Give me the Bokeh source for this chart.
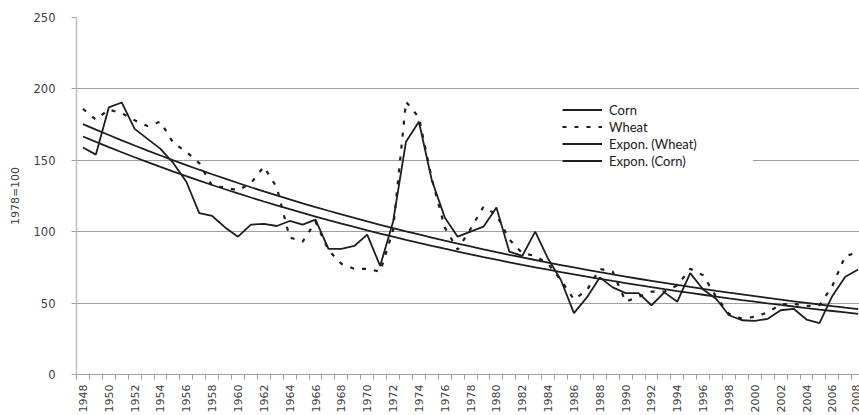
import math
import numpy as np
from bokeh.plotting import figure
from bokeh.models import FixedTicker, Legend, LegendItem
from bokeh.embed import file_html
from bokeh.resources import INLINE

years = list(range(1948, 2009))
corn = [159, 154, 187, 190.5, 172, 165, 158, 148, 135, 113,
        111, 103, 96.5, 105, 105.5, 104, 107.5, 105, 108.5, 88,
        88, 90, 98, 76, 107, 163, 177, 136, 110, 96.5,
        100, 103.5, 117, 86, 83, 100, 81, 66, 43, 54,
        68, 61, 57, 57, 48.5, 57.5, 51, 71, 59.5, 53,
        41.5, 38, 37.5, 39, 45, 46, 38.5, 36, 55, 68.5,
        73.5]
wheat = [186, 178.5, 185.5, 183, 178, 174, 177, 162, 156, 148,
         132, 131, 129, 134, 145.5, 131, 96, 93, 107, 87,
         77.5, 74, 74, 72, 101, 191, 180, 137, 103, 87.5,
         102, 117.5, 112, 94.5, 85, 83, 77.5, 66, 52.5, 59,
         74, 72, 51, 54.5, 58, 58, 62.5, 74, 69.5, 54.5,
         42.5, 39, 40.5, 43.5, 49, 49.5, 48, 48.5, 62, 83,
         85.5]
y_ticks = [0, 50, 100, 150, 200, 250]
x_label_years = list(range(1948, 2009, 2))

# Exponential trendlines (least squares on log values, as Excel does)
yr = np.array(years, dtype=float)
cw = np.polyfit(yr, np.log(np.array(wheat)), 1)
cc = np.polyfit(yr, np.log(np.array(corn)), 1)
trend_wheat = np.exp(np.polyval(cw, yr))
trend_corn = np.exp(np.polyval(cc, yr))

INK = "#1e1e1e"
TXT = "#404040"

p = figure(width=859, height=415, x_range=(1947.5, 2008.1), y_range=(0, 250),
           output_backend="svg", toolbar_location=None,
           min_border_left=76, min_border_right=0, min_border_top=17, min_border_bottom=41)
p.outline_line_color = None
p.background_fill_color = "white"
p.xgrid.visible = False
p.ygrid.grid_line_color = "#a0a0a0"
p.ygrid.grid_line_width = 1

# y axis
p.yaxis.ticker = FixedTicker(ticks=y_ticks)
p.yaxis.axis_line_color = "#c0c0c0"
p.yaxis.axis_line_width = 1.5
p.yaxis.major_tick_in = 0
p.yaxis.major_tick_out = 5
p.yaxis.major_tick_line_color = "#a0a0a0"
p.yaxis.minor_tick_line_color = None
p.yaxis.major_label_text_font = "DejaVu Sans"
p.yaxis.major_label_text_font_size = "11.5px"
p.yaxis.major_label_text_color = TXT
p.yaxis.major_label_standoff = 16
p.yaxis.axis_label = "1978=100"
p.yaxis.axis_label_text_font = "DejaVu Sans"
p.yaxis.axis_label_text_font_size = "11px"
p.yaxis.axis_label_text_font_style = "normal"
p.yaxis.axis_label_text_color = TXT
p.yaxis.axis_label_standoff = 9

# x axis
p.xaxis.ticker = FixedTicker(ticks=x_label_years,
                             minor_ticks=[1947.5 + i for i in range(62)])
p.xaxis.axis_line_color = "#a0a0a0"
p.xaxis.major_tick_in = 0
p.xaxis.major_tick_out = 0
p.xaxis.minor_tick_in = 0
p.xaxis.minor_tick_out = 5
p.xaxis.minor_tick_line_color = "#a0a0a0"
p.xaxis.major_label_orientation = math.pi / 2
p.xaxis.major_label_text_font = "DejaVu Sans"
p.xaxis.major_label_text_font_size = "11px"
p.xaxis.major_label_text_color = TXT
p.xaxis.major_label_standoff = 5

r_corn = p.line(years, corn, line_color=INK, line_width=1.8)
r_wheat = p.line(years, wheat, line_color=INK, line_width=2.2, line_dash="4 8")
r_tw = p.line(years, trend_wheat, line_color=INK, line_width=1.8)
r_tc = p.line(years, trend_corn, line_color=INK, line_width=1.8)

legend = Legend(items=[LegendItem(label="Corn", renderers=[r_corn]),
                       LegendItem(label="Wheat", renderers=[r_wheat]),
                       LegendItem(label="Expon. (Wheat)", renderers=[r_tw]),
                       LegendItem(label="Expon. (Corn)", renderers=[r_tc])],
                location=(486, 205), border_line_color=None,
                background_fill_color="white", background_fill_alpha=1.0,
                padding=10, spacing=0, margin=0,
                glyph_width=40, glyph_height=17, label_height=17,
                label_standoff=7, label_width=144,
                label_text_font="Lato", label_text_font_size="13px",
                label_text_color="#202020")
p.add_layout(legend)

open("out.html", "w").write(file_html(p, INLINE))
